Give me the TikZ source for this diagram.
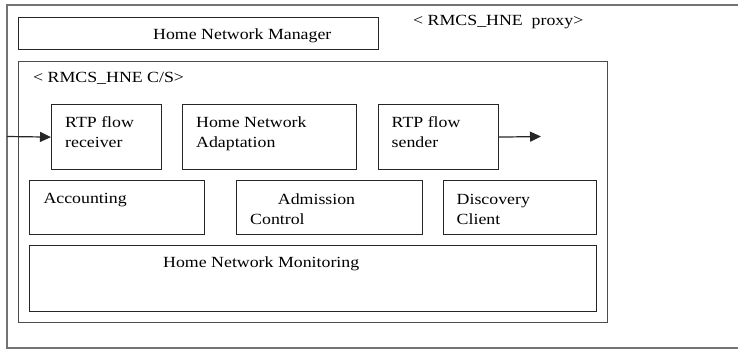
\documentclass[tikz,border=0pt]{standalone}
\usepackage{fontspec}
\setmainfont{Liberation Serif}[FakeStretch=1.15]
\usepackage{tikz}
\usetikzlibrary{arrows.meta, positioning}

\begin{document}
\begin{tikzpicture}[x=1pt, y=-1pt, font=\fontsize{15.5}{20}\selectfont]

% Define styles for the boxes and their texts
\tikzstyle{box} = [rectangle, draw=black!85, line width=1.2pt, anchor=north west, inner sep=0pt]
\tikzstyle{txt} = [anchor=base west, align=left, inner sep=0pt]
\tikzstyle{flow} = [draw=black!85, line width=1.2pt, -{Triangle[length=11pt, width=10pt]}]

\useasboundingbox (0,0) rectangle (738,350);

% Outer frame (proxy), open on the right
\draw[black!55, line width=1.5pt] (738,5) -- (7,5) -- (7,348) -- (738,348);
\node (proxy) [txt] at (413,26) {< RMCS\_HNE\ \ proxy>};

% Manager
\node (mgr) [box, minimum width=360pt, minimum height=32pt] at (18,17) {};
\node (mgrtxt) [txt] at (153,39.5) {Home Network Manager};

% C/S block
\node (cs) [box, draw=black!70, minimum width=589pt, minimum height=261pt] at (18,61) {};
\node (cstxt) [txt] at (33,82.5) {< RMCS\_HNE C/S>};

% First row (two-line texts sit on their last baseline)
\node (recv) [box, minimum width=110pt, minimum height=65pt] at (51,104) {};
\node (recvtxt) [txt] at ([shift={(14,43.3)}]recv.north west) {RTP flow\\receiver};
\node (adapt) [box, minimum width=174pt, minimum height=65pt] at (182,104) {};
\node (adapttxt) [txt] at ([shift={(14,43.3)}]adapt.north west) {Home Network\\Adaptation};
\node (send) [box, minimum width=120pt, minimum height=65pt] at (378,104) {};
\node (sendtxt) [txt] at ([shift={(13.5,43.3)}]send.north west) {RTP flow\\sender};

% Second row
\node (acct) [box, minimum width=175pt, minimum height=54pt] at (29,180) {};
\node (accttxt) [txt] at ([shift={(14.3,23.3)}]acct.north west) {Accounting};
\node (adm) [box, minimum width=186pt, minimum height=54pt] at (236,180) {};
\node (admtxt) [txt] at ([shift={(14,44.3)}]adm.north west) {\hspace*{27.7pt}Admission\\Control};
\node (disc) [box, minimum width=153pt, minimum height=54pt] at (443,180) {};
\node (disctxt) [txt] at ([shift={(13.5,44)}]disc.north west) {Discovery\\Client};

% Monitoring
\node (mon) [box, minimum width=567pt, minimum height=66pt] at (29,245) {};
\node (montxt) [txt] at (163,267) {Home Network Monitoring};

% Arrows
\coordinate (src) at (7,136.5);
\coordinate (sink) at (541,136.5);
\draw[flow] (src) -- (recv.west);
\draw[flow] (send.east) -- (sink);

\end{tikzpicture}
\end{document}
